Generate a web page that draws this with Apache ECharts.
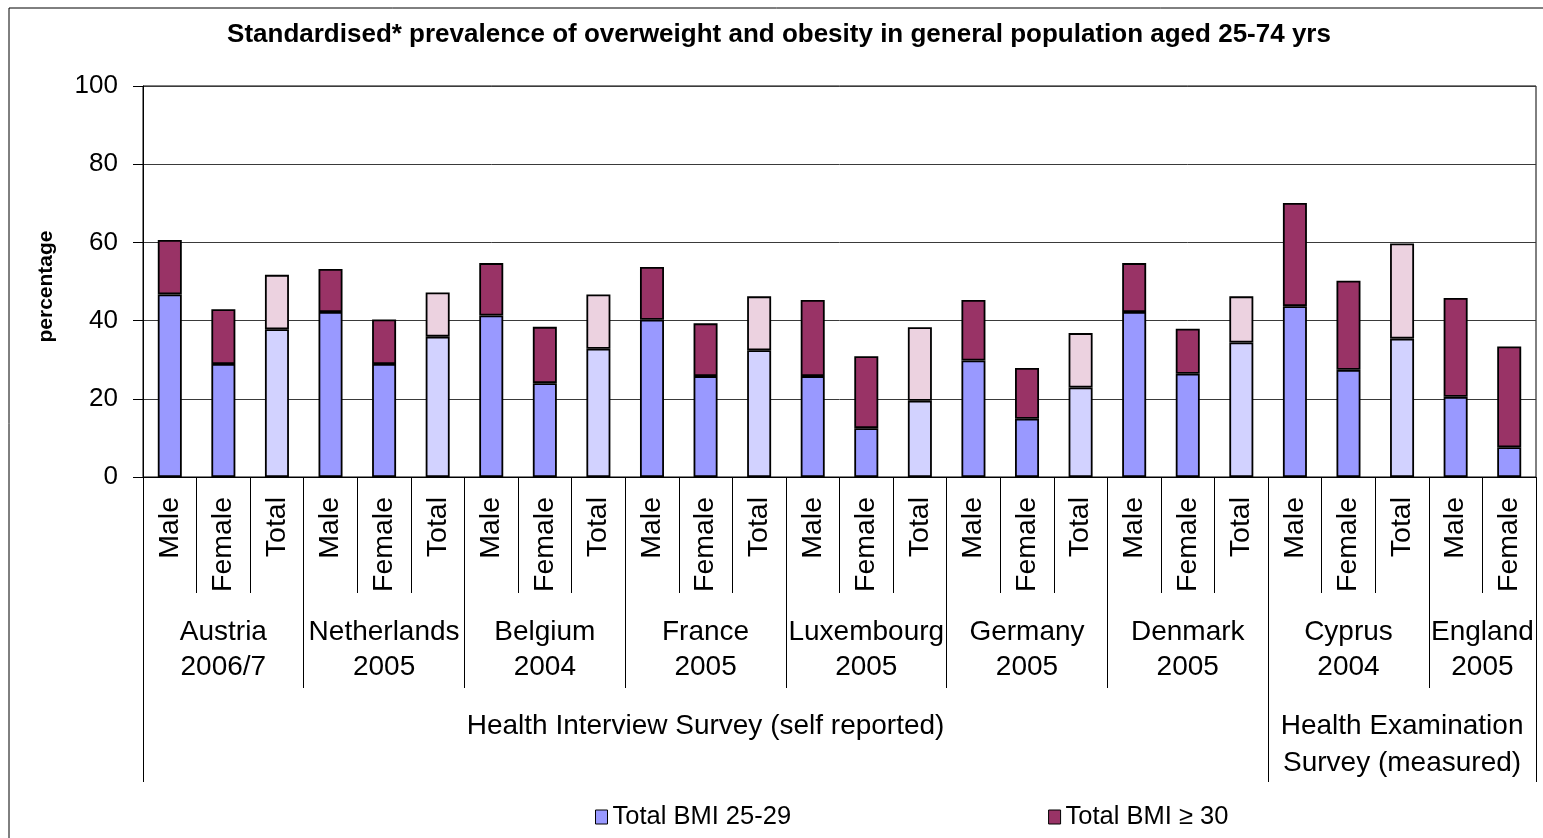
<!DOCTYPE html>
<html>
<head>
<meta charset="utf-8">
<script src="https://cdn.jsdelivr.net/npm/echarts@6/dist/echarts.min.js"></script>
<style>
html,body{margin:0;padding:0;background:#fff;}
#chart{width:1543px;height:838px;}
</style>
</head>
<body>
<div id="chart"></div>
<script>
const categories = ['Male','Female','Total','Male','Female','Total','Male','Female','Total','Male','Female','Total','Male','Female','Total','Male','Female','Total','Male','Female','Total','Male','Female','Total','Male','Female'];
const bmi25to29 = [46.7,28.9,37.8, 42.2,28.9,35.9, 41.3,24.0,32.8, 40.2,25.8,32.4, 25.8,12.5,19.5, 29.8,14.9,22.9, 42.2,26.4,34.4, 43.7,27.4,35.4, 20.5,7.6];
const bmi30plus = [13.9,14.0,13.9, 11.0,11.4,11.3, 13.4,14.4,13.9, 13.5,13.5,13.8, 19.5,18.4,18.8, 15.5,13.0,13.9, 12.5,11.5,11.8, 26.4,22.8,24.3, 25.3,25.8];
const groupNames = ['Austria\n2006/7','Netherlands\n2005','Belgium\n2004','France\n2005','Luxembourg\n2005','Germany\n2005','Denmark\n2005','Cyprus\n2004','England\n2005'];
const groupSizes = [3,3,3,3,3,3,3,3,2];
const surveyNames = ['Health Interview Survey (self reported)','Health Examination\nSurvey (measured)'];
const surveySizes = [21,5];
const yTicks = [0,20,40,60,80,100];
const seriesNames = ['Total BMI 25-29','Total BMI \u2265 30'];

function spans(sizes){
  const bounds=[0], centers=[];
  let acc=0;
  sizes.forEach(s=>{centers.push(acc+s/2); acc+=s; bounds.push(acc);});
  return {bounds, centers};
}
const g = spans(groupSizes);
const s = spans(surveySizes);
const groupLabelMap = {}; g.centers.forEach((c,i)=>groupLabelMap[c]=groupNames[i]);
const surveyLabelMap = {}; s.centers.forEach((c,i)=>surveyLabelMap[c]=surveyNames[i]);
const N = categories.length;

const FONT = '"Liberation Sans", Arial, sans-serif';
const lowColor = '#9999ff', lowTotal = '#d2d2ff';
const highColor = '#993366', highTotal = '#ecd2e0';

function build(vals, light){
  return vals.map((v,i)=> categories[i]==='Total'
    ? {value:v, itemStyle:{color:light}}
    : {value:v});
}

const chart = echarts.init(document.getElementById('chart'));
chart.setOption({
  animation:false,
  backgroundColor:'#fff',
  textStyle:{fontFamily:FONT,color:'#000'},
  title:{
    text:'Standardised* prevalence of overweight and obesity in general population aged 25-74 yrs',
    left:774, textAlign:'center', top:17,
    textStyle:{fontFamily:FONT,fontSize:26,fontWeight:'bold',color:'#000'}
  },
  graphic:[{type:'rect',shape:{x:9,y:8,width:1600,height:900},style:{fill:null,stroke:'#000',lineWidth:1},silent:true}],
  legend:{
    bottom:3, left:590, itemGap:257, itemWidth:12, itemHeight:14,
    icon:'rect',
    textStyle:{fontFamily:FONT,fontSize:25.5,color:'#000'},
    itemStyle:{borderColor:'#000',borderWidth:1},
    data:seriesNames
  },
  grid:{left:143,right:7,top:86,bottom:361,show:true,borderColor:'#000',borderWidth:1,backgroundColor:'transparent'},
  xAxis:[
    {type:'category',data:categories,position:'bottom',
     axisLine:{lineStyle:{color:'#000',width:1}},
     axisTick:{show:true,interval:0,length:116,lineStyle:{color:'#000',width:1}},
     axisLabel:{interval:0,rotate:90,fontSize:28.5,margin:20,color:'#000',fontFamily:FONT}},
    {type:'value',min:0,max:N,position:'bottom',
     axisLine:{show:false},splitLine:{show:false},
     axisTick:{show:true,customValues:g.bounds,length:211,lineStyle:{color:'#000',width:1}},
     axisLabel:{show:true,customValues:g.centers,margin:138,fontSize:28,lineHeight:35,color:'#000',fontFamily:FONT,
       formatter:v=>groupLabelMap[v]||''}},
    {type:'value',min:0,max:N,position:'bottom',
     axisLine:{show:false},splitLine:{show:false},
     axisTick:{show:true,customValues:s.bounds,length:305,lineStyle:{color:'#000',width:1}},
     axisLabel:{show:true,customValues:s.centers,margin:231,fontSize:28,lineHeight:37,color:'#000',fontFamily:FONT,
       formatter:v=>surveyLabelMap[v]||''}}
  ],
  yAxis:{type:'value',min:0,max:100,interval:20,
    name:'percentage',nameLocation:'middle',nameGap:86,nameRotate:90,
    nameTextStyle:{fontFamily:FONT,fontSize:21,fontWeight:'bold',color:'#000',padding:[0,10,0,0]},
    axisLine:{show:true,lineStyle:{color:'#000',width:1}},
    axisTick:{show:true,inside:false,length:10,lineStyle:{color:'#000'}},
    axisLabel:{fontSize:26,margin:25,color:'#000',fontFamily:FONT,
      formatter:v=>yTicks.includes(v)?String(v):''},
    splitLine:{show:true,lineStyle:{color:'#3a3a3a',width:1}}
  },
  series:[
    {name:seriesNames[0],type:'bar',stack:'bmi',xAxisIndex:0,barWidth:24,
     itemStyle:{color:lowColor,borderColor:'#000',borderWidth:1.8},
     data:build(bmi25to29,lowTotal)},
    {name:seriesNames[1],type:'bar',stack:'bmi',xAxisIndex:0,barWidth:24,
     itemStyle:{color:highColor,borderColor:'#000',borderWidth:1.8},
     data:build(bmi30plus,highTotal)}
  ]
});
</script>
</body>
</html>
